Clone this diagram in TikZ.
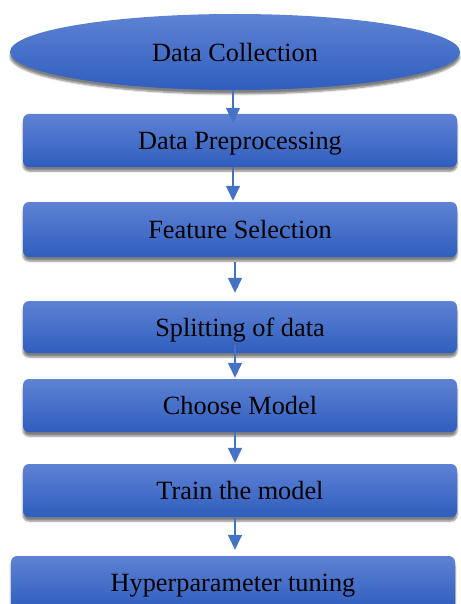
\documentclass[tikz,border=0pt]{standalone}
\usepackage{fontspec}
\setmainfont{Liberation Serif}
\usetikzlibrary{arrows.meta,shapes.geometric,shadows.blur}

\definecolor{boxtop}{RGB}{94,130,212}
\definecolor{boxbot}{RGB}{47,94,190}
\definecolor{arrblue}{RGB}{68,114,196}

\begin{document}
\begin{tikzpicture}[x=1pt, y=-1pt, >=Triangle,
    stepbox/.style={rectangle, rounded corners=6pt, minimum width=434pt, minimum height=53pt,
        top color=boxtop, bottom color=boxbot, draw=none,
        blur shadow={shadow xshift=0pt, shadow yshift=-4pt, shadow blur steps=6, shadow opacity=50},
        font=\fontsize{26.3}{30}\selectfont, text=black, inner sep=0pt, text depth=0pt},
    startnode/.style={stepbox, ellipse, minimum width=450pt, minimum height=76pt},
    flow/.style={->, arrblue, line width=1.5pt, arrows={-Triangle[width=14pt, length=15pt]}}]

    % Frame
    \useasboundingbox (0,0) rectangle (460,604);

    % Steps
    \node[startnode] (coll) at (235,52) {Data Collection};
    \node[stepbox] (prep) at (240,140.5) {Data Preprocessing};
    \node[stepbox, minimum height=55pt] (feat) at (240,229.5) {Feature Selection};
    \node[stepbox, minimum height=52pt] (split) at (240,327) {Splitting of data};
    \node[stepbox] (model) at (240,405.5) {Choose Model};
    \node[stepbox] (train) at (240,490.5) {Train the model};
    \node[stepbox, minimum width=444pt] (tune) at (233,582.5) {Hyperparameter tuning};

    % Arrows between the steps
    \draw[flow, shorten >=-9pt] ([xshift=-2pt]coll.south) -- ([xshift=-7pt]prep.north);
    \draw[flow, shorten >=1pt] ([xshift=-7pt]prep.south) -- ([xshift=-7pt]feat.north);
    \draw[flow, shorten <=5pt, shorten >=8pt] ([xshift=-5pt]feat.south) -- ([xshift=-5pt]split.north);
    \draw[flow, shorten <=-8pt, shorten >=1pt] ([xshift=-5pt]split.south) -- ([xshift=-5pt]model.north);
    \draw[flow, shorten >=1pt] ([xshift=-5pt]model.south) -- ([xshift=-5pt]train.north);
    \draw[flow, shorten <=1pt, shorten >=6pt] ([xshift=-5pt]train.south) -- ([xshift=2pt]tune.north);

\end{tikzpicture}
\end{document}
